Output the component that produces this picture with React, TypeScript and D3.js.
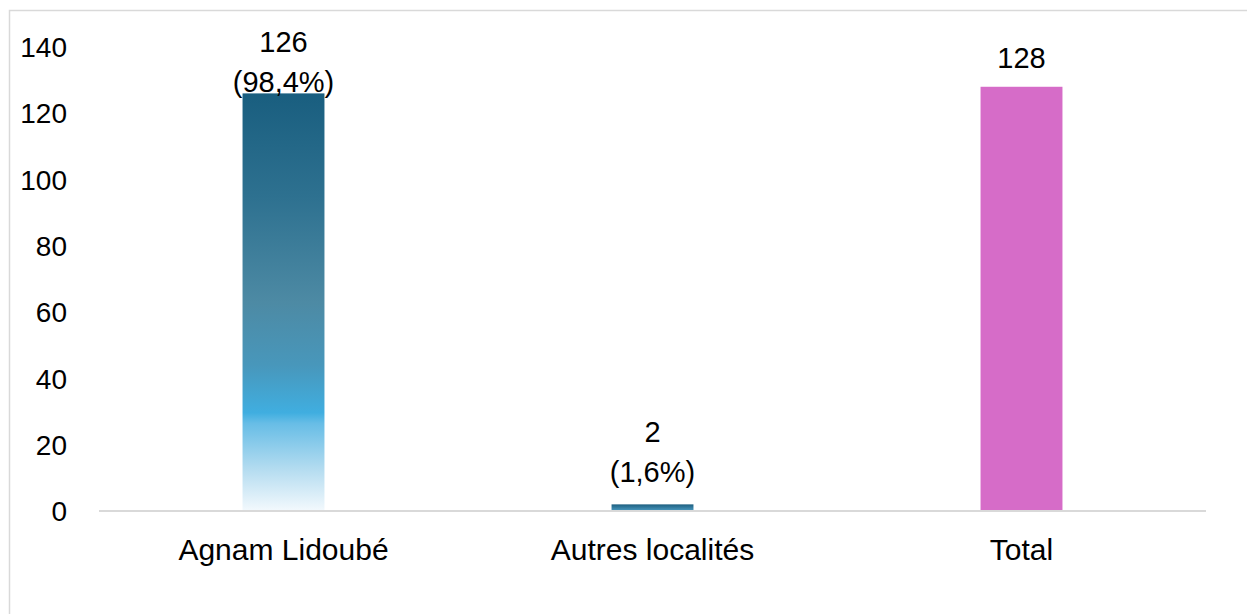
import React from "react";
import * as d3 from "d3";

const categories = ["Agnam Lidoubé", "Autres localités", "Total"];
const values = [126, 2, 128];
const percentLabels = ["(98,4%)", "(1,6%)", ""];
const yTicks = [0, 20, 40, 60, 80, 100, 120, 140];

const W = 1247;
const H = 614;
const FONT = "'Liberation Sans', Arial, sans-serif";

export default function App() {
  const x = d3.scaleBand<string>().domain(categories).range([99, 1206]).paddingInner(0.778).paddingOuter(0.389);
  const y = d3.scaleLinear().domain([0, 140]).range([511, 47]);
  const fills = ["url(#gradA)", "url(#gradB)", "#d66cc8"];

  return (
    <div style={{ position: "absolute", left: 0, top: 0 }}>
      <svg width={W} height={H} style={{ display: "block", background: "#fff" }}>
        <defs>
          <linearGradient id="gradA" x1="0" y1="0" x2="0" y2="1">
            <stop offset="0" stopColor="#195e7f" />
            <stop offset="0.25" stopColor="#2e7190" />
            <stop offset="0.5" stopColor="#4d8aa4" />
            <stop offset="0.65" stopColor="#4897bb" />
            <stop offset="0.765" stopColor="#40aee0" />
            <stop offset="0.79" stopColor="#67bde6" />
            <stop offset="0.9" stopColor="#b4dcf0" />
            <stop offset="1" stopColor="#f3f9fd" />
          </linearGradient>
          <linearGradient id="gradB" x1="0" y1="0" x2="0" y2="1">
            <stop offset="0" stopColor="#1d5f80" />
            <stop offset="1" stopColor="#4b9bc2" />
          </linearGradient>
        </defs>
        <rect x={9.5} y={10.5} width={W + 20} height={H + 20} fill="none" stroke="#d9d9d9" strokeWidth={1.5} />
        {yTicks.map((t) => (
          <text key={t} x={67} y={y(t)} dy="0.36em" textAnchor="end" fontFamily={FONT} fontSize={28} fill="#000">
            {t}
          </text>
        ))}
        {categories.map((c, i) => {
          const bx = x(c)!;
          const top = y(values[i]);
          const lines = percentLabels[i] ? [String(values[i]), percentLabels[i]] : [String(values[i])];
          const lastBase = top - (lines.length > 1 ? 22.5 : 19);
          let firstBase = lastBase - (lines.length - 1) * 40;
          if (firstBase < 52) {
            firstBase = 52;
          }
          return (
            <g key={c}>
              <rect x={bx} y={top} width={x.bandwidth()} height={y(0) - top} fill={fills[i]} />
              {lines.map((l, j) => (
                <text
                  key={j}
                  x={bx + x.bandwidth() / 2}
                  y={firstBase + j * 40}
                  textAnchor="middle"
                  fontFamily={FONT}
                  fontSize={29}
                  fill="#000"
                >
                  {l}
                </text>
              ))}
              <text x={bx + x.bandwidth() / 2} y={560} textAnchor="middle" fontFamily={FONT} fontSize={30} fill="#000">
                {c}
              </text>
            </g>
          );
        })}
        <line x1={99} x2={1206} y1={y(0)} y2={y(0)} stroke="#d9d9d9" strokeWidth={2} />
      </svg>
    </div>
  );
}
